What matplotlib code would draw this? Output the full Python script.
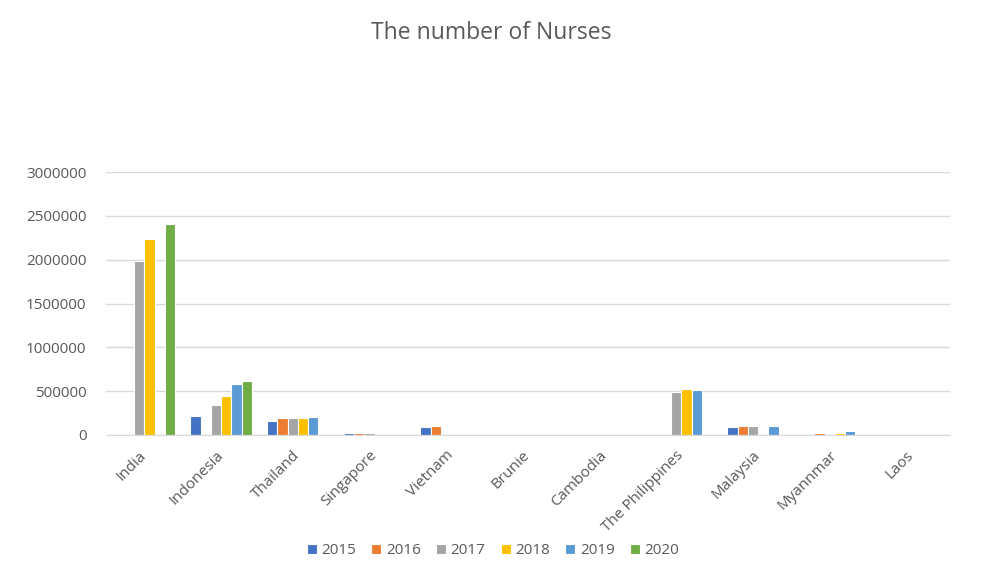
import numpy as np
import matplotlib
matplotlib.use("Agg")
import matplotlib.pyplot as plt

categories = ["India", "Indonesia", "Thailand", "Singapore", "Vietnam", "Brunie",
              "Cambodia", "The Philippines", "Malaysia", "Myannmar", "Laos"]
years = ["2015", "2016", "2017", "2018", "2019", "2020"]
nan = np.nan
v2015 = [nan, 221000, 157000, 22000, 92000, nan, nan, nan, 88000, nan, nan]
v2016 = [nan, nan, 191000, 22000, 107000, nan, nan, nan, 107000, 23000, nan]
v2017 = [1990000, 343000, 191000, 22000, nan, nan, nan, 485000, 107000, nan, nan]
v2018 = [2240000, 447000, 191000, nan, nan, nan, nan, 530000, nan, 23000, nan]
v2019 = [nan, 580000, 210000, nan, nan, nan, nan, 511000, 107000, 42000, nan]
v2020 = [2410000, 618000, nan, nan, nan, nan, nan, nan, nan, nan, nan]
series = [v2015, v2016, v2017, v2018, v2019, v2020]
colors = ["#4472C4", "#ED7D31", "#A5A5A5", "#FFC000", "#5B9BD5", "#70AD47"]
yticks = [0, 500000, 1000000, 1500000, 2000000, 2500000, 3000000]

plt.rcParams['font.family'] = ['Open Sans', 'DejaVu Sans']
txt = "#595959"

fig = plt.figure(figsize=(9.86, 5.70), dpi=100)
ax = fig.add_axes([106/986, (570-435)/570, 844/986, (435-172)/570])

x = np.arange(len(categories))
w = 0.134
for i, (vals, c, yr) in enumerate(zip(series, colors, years)):
    ax.bar(x + (i - 2.5) * w, vals, width=w, color=c, edgecolor="white",
           linewidth=0.8, label=yr, zorder=3)

ax.set_xlim(-0.5, len(categories) - 0.5)
ax.set_ylim(0, 3000000)
ax.set_yticks(yticks)
ax.set_yticklabels([str(t) for t in yticks], color=txt, fontsize=11)
ax.yaxis.grid(True, color="#D9D9D9", linewidth=1, zorder=0)
ax.set_xticks(x)
ax.set_xticklabels(categories, rotation=45, ha="right", va="center",
                   rotation_mode="anchor", color=txt, fontsize=11)
ax.tick_params(axis="y", length=0, pad=14)
ax.tick_params(axis="x", length=0, pad=13)
for s in ["top", "right", "left"]:
    ax.spines[s].set_visible(False)
ax.spines["bottom"].set_color("#D9D9D9")
ax.spines["bottom"].set_zorder(4)

fig.text(491/986, 1 - 33/570, "The number of Nurses", ha="center", va="center",
         fontsize=16.5, color=txt)

leg = fig.legend(loc="center", bbox_to_anchor=(493/986, 1 - 551/570), ncol=6,
                 frameon=False, fontsize=11, handlelength=0.65, handleheight=0.65,
                 handletextpad=0.3, columnspacing=1.0)
for t in leg.get_texts():
    t.set_color(txt)

fig.savefig("out.png", dpi=100)
